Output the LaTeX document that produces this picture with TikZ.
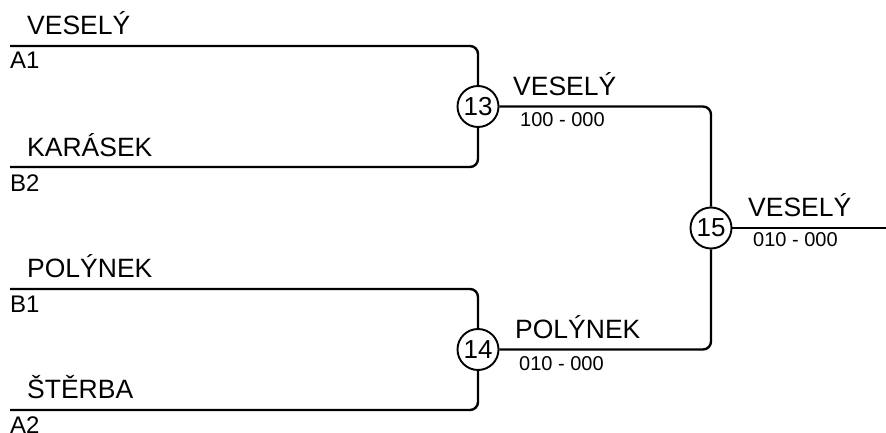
\documentclass[tikz,border=0pt]{standalone}
\usepackage{fontspec}
\setmainfont{Liberation Sans}
\begin{document}
\begin{tikzpicture}[x=1pt,y=-1pt,
  conn/.style={line width=2.4pt,rounded corners=8pt},
  game/.style={circle,draw,line width=1.9pt,minimum size=41pt,inner sep=0pt,fill=white,font=\fontsize{26}{26}\selectfont},
  pname/.style={anchor=base west,inner sep=0pt,font=\fontsize{26.5}{27}\selectfont},
  pseed/.style={anchor=base west,inner sep=0pt,font=\fontsize{24}{24}\selectfont},
  pscore/.style={anchor=base west,inner sep=0pt,font=\fontsize{20}{20}\selectfont}]
\useasboundingbox (0,0) rectangle (886,433);
% start points
\coordinate (a1) at (10,46);
\coordinate (b2) at (10,167);
\coordinate (b1) at (10,289);
\coordinate (a2) at (10,410);
\coordinate (fin) at (886,228);
% games
\node[game] (g13) at (478,106.5) {13};
\node[game] (g14) at (478,349.5) {14};
\node[game] (g15) at (711,228) {15};
% connectors
\draw[conn] (a1) -| (g13.north);
\draw[conn] (b2) -| (g13.south);
\draw[conn] (b1) -| (g14.north);
\draw[conn] (a2) -| (g14.south);
\draw[conn] (g13.east) -| (g15.north);
\draw[conn] (g14.east) -| (g15.south);
\draw[conn] (g15.east) -- (fin);
% names
\node[pname] (n1) at (27,35) {VESELÝ};
\node[pseed] (s1) at (10,69) {A1};
\node[pname] (n2) at (27,157) {KARÁSEK};
\node[pseed] (s2) at (10,191) {B2};
\node[pname] (n3) at (27,277) {POLÝNEK};
\node[pseed] (s3) at (10,312) {B1};
\node[pname] (n4) at (27,398) {ŠTĚRBA};
\node[pseed] (s4) at (10,433) {A2};
% winners
\node[pname] (w13) at (513,96) {VESELÝ};
\node[pscore] (r13) at (520,127) {100 - 000};
\node[pname] (w14) at (515,338) {POLÝNEK};
\node[pscore] (r14) at (519,370) {010 - 000};
\node[pname] (w15) at (748,216) {VESELÝ};
\node[pscore] (r15) at (753,246) {010 - 000};
\end{tikzpicture}
\end{document}
